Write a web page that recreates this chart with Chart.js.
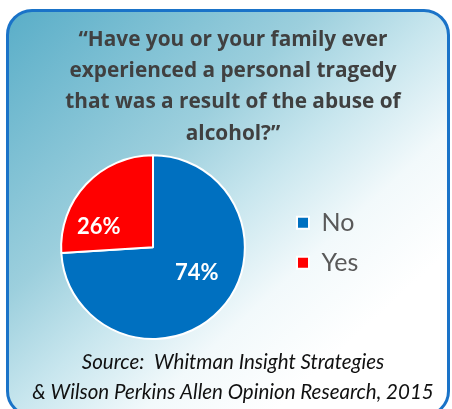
<!DOCTYPE html>
<html>
<head>
<meta charset="utf-8">
<script src="https://cdn.jsdelivr.net/npm/chart.js@4.4.1/dist/chart.umd.min.js"></script>
<style>
  html, body { margin: 0; padding: 0; background: #ffffff; }
  .wrap { position: relative; width: 452px; height: 409px; overflow: hidden; }
  .panel {
    position: absolute; left: 6px; top: 9px; width: 438px; height: 402px;
    border: 3px solid #1a73c8; border-radius: 26px;
    background: linear-gradient(to bottom right, #5aaec8 0%, #9ccfdd 35%, #c8e6ee 50%, #f2f9fb 65%, #ffffff 80%);
  }
  canvas { position: absolute; left: 0; top: 0; }
</style>
</head>
<body>
<div class="wrap">
  <div class="panel"></div>
  <canvas id="pieChart" width="452" height="409"></canvas>
</div>
<script>
// data
const categories = ["No", "Yes"];
const shares = [74, 26];
const sliceColors = ["#0070c0", "#ff0000"];
const titleLines = [
    "\u201cHave you or your family ever",
    "experienced a personal tragedy",
    "that was a result of the abuse of",
    "alcohol?\u201d"
];
const sourceLines = [
    "Source:  Whitman Insight Strategies",
    "& Wilson Perkins Allen Opinion Research, 2015"
];

// where the % labels sit inside each slice (fraction of radius, angle nudge in degrees)
const labelPlace = [
    { r: 0.55, turn: -13 },
    { r: 0.63, turn: -23 }
];

// widen the legend box so the pie sits left of the legend like the original
const legendWidth = {
    id: "legendWidth",
    afterInit(chart) {
        const legend = chart.legend;
        const fit = legend.fit.bind(legend);
        legend.fit = function() {
            fit();
            this.width = 160;
        };
    }
};

// percentage labels in the slices
const pctLabels = {
    id: "pctLabels",
    afterDatasetsDraw(chart) {
        const ctx = chart.ctx;
        const arcs = chart.getDatasetMeta(0).data;
        ctx.save();
        ctx.fillStyle = "#ffffff";
        ctx.font = "bold 22px Lato";
        ctx.textAlign = "center";
        ctx.textBaseline = "middle";
        arcs.forEach((arc, i) => {
            const p = arc.getProps(["x", "y", "startAngle", "endAngle", "outerRadius"], true);
            const mid = (p.startAngle + p.endAngle) / 2 + labelPlace[i].turn * Math.PI / 180;
            const d = p.outerRadius * labelPlace[i].r;
            ctx.fillText(shares[i] + "%", p.x + Math.cos(mid) * d, p.y + Math.sin(mid) * d);
        });
        ctx.restore();
    }
};

const ctx = document.getElementById("pieChart").getContext("2d");

new Chart(ctx, {
    type: "pie",
    data: {
        labels: categories,
        datasets: [{
            data: shares,
            backgroundColor: sliceColors,
            borderColor: "#ffffff",
            borderWidth: 2
        }]
    },
    options: {
        responsive: false,
        animation: false,
        layout: {
            padding: { left: 24, right: 10, top: 0, bottom: 0 }
        },
        plugins: {
            title: {
                display: true,
                text: titleLines,
                color: "#404040",
                font: { family: "Open Sans", size: 20.8, weight: "bold", lineHeight: 1.5 },
                padding: { top: 24.5, bottom: 5 }
            },
            subtitle: {
                display: true,
                position: "bottom",
                text: sourceLines,
                color: "#111111",
                font: { family: "Lato", size: 20.5, style: "italic", weight: "normal", lineHeight: 1.463 },
                padding: { top: 7, bottom: 2 }
            },
            legend: {
                position: "right",
                fullSize: false,
                align: "start",
                title: {
                    display: true,
                    text: " ",
                    font: { size: 10, lineHeight: 1 },
                    padding: { top: 15, bottom: 16 }
                },
                labels: {
                    boxWidth: 12,
                    boxHeight: 12,
                    padding: 15,
                    color: "#595959",
                    font: { family: "Lato", size: 25 }
                }
            },
            tooltip: { enabled: false }
        }
    },
    plugins: [legendWidth, pctLabels]
});
</script>
</body>
</html>
